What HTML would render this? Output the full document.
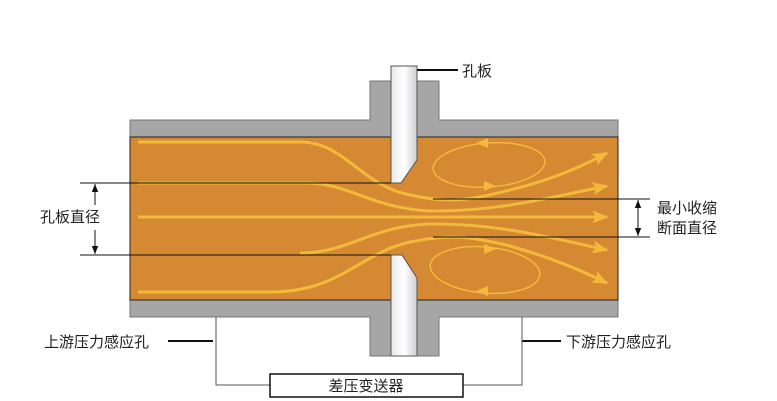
<!DOCTYPE html>
<html><head><meta charset="utf-8"><style>
html,body{margin:0;padding:0;background:#fff;}
svg{display:block;}
text{font-family:"Liberation Sans","Noto Sans CJK SC",sans-serif;font-size:15px;fill:#222;}
</style></head><body>
<svg width="777" height="401" viewBox="0 0 777 401" xmlns="http://www.w3.org/2000/svg">
<defs>
<marker id="ya" viewBox="0 0 10 10" refX="9" refY="5" markerWidth="16" markerHeight="16" orient="auto" markerUnits="userSpaceOnUse" >
<path d="M0,1 L10,5 L0,9 L2,5 z" fill="#f2b93a"/></marker>
<marker id="ba" viewBox="0 0 10 10" refX="10" refY="5" markerWidth="8" markerHeight="8" orient="auto" markerUnits="userSpaceOnUse">
<path d="M0,1 L10,5 L0,9 z" fill="#111"/></marker>
<linearGradient id="pg" x1="0" x2="1"><stop offset="0" stop-color="#e8e8ea"/><stop offset="0.5" stop-color="#ffffff"/><stop offset="1" stop-color="#cfcfd2"/></linearGradient>
</defs>
<path d="M130,120 L370,120 L370,81 L439,81 L439,120 L618,120 L618,317 L439,317 L439,356 L370,356 L370,317 L130,317 Z" fill="#a6a6a7" stroke="#777" stroke-width="1"/>
<rect x="130" y="137" width="488" height="163" fill="#d68933" stroke="#222" stroke-width="1"/>
<path d="M391,66 L417,66 L417,160 L401,183 L391,183 Z" fill="url(#pg)" stroke="#555" stroke-width="1"/>
<path d="M391,356 L417,356 L417,278 L402,255 L391,255 Z" fill="url(#pg)" stroke="#555" stroke-width="1"/>
<g fill="none" stroke="#f2b93a" stroke-width="3">
<path d="M138,142 L300,142 C345,142 360,185 410,195 C450,204 470,200 510,190 C560,178 590,162 607,153" marker-end="url(#ya)"/>
<path d="M138,183 L305,183 C350,183 370,208 430,211 C500,212 560,195 607,186" marker-end="url(#ya)"/>
<path d="M138,217 L607,217" marker-end="url(#ya)"/>
<path d="M138,292 L270,292 C340,292 360,253 410,242 C450,234 470,236 510,246 C560,260 590,275 607,283" marker-end="url(#ya)"/>
<path d="M300,253 C350,253 370,226 430,224 C500,223 560,240 607,250" marker-end="url(#ya)"/>
</g>
<g fill="none" stroke="#f2b93a" stroke-width="1.5">
<ellipse cx="489" cy="165" rx="56" ry="22" transform="rotate(-4 489 165)"/>
<ellipse cx="485" cy="270" rx="55" ry="23" transform="rotate(5 485 270)"/>
</g>
<g fill="#f2b93a">
<path d="M476,143 L488,138 L488,148 Z"/>
<path d="M496,186 L484,181 L484,191 Z"/>
<path d="M496,249 L484,244 L484,254 Z"/>
<path d="M476,291 L488,286 L488,296 Z"/>
</g>
<g stroke="#111" stroke-width="1">
<line x1="80" y1="183" x2="391" y2="183"/>
<line x1="80" y1="255" x2="391" y2="255"/>
<line x1="433" y1="199" x2="650" y2="199"/>
<line x1="433" y1="237" x2="650" y2="237"/>
<line x1="95" y1="205" x2="95" y2="184" marker-end="url(#ba)"/>
<line x1="95" y1="230" x2="95" y2="254" marker-end="url(#ba)"/>
<line x1="638" y1="218" x2="638" y2="200" marker-end="url(#ba)"/>
<line x1="638" y1="218" x2="638" y2="236" marker-end="url(#ba)"/>
<line x1="417" y1="70" x2="458" y2="70" stroke-width="2"/>
<line x1="168" y1="341" x2="213" y2="341" stroke-width="2"/>
<line x1="522" y1="341" x2="561" y2="341" stroke-width="2"/>
</g>
<g stroke="#555" stroke-width="1" fill="none">
<path d="M216,317 L216,385 L270,385"/>
<path d="M522,317 L522,385 L463,385"/>
</g>
<rect x="270" y="374" width="193" height="23" fill="#fff" stroke="#111" stroke-width="1.5"/>
<text x="462" y="76">孔板</text>
<text x="40" y="222">孔板直径</text>
<text x="657" y="213">最小收缩</text>
<text x="657" y="233">断面直径</text>
<text x="44" y="347">上游压力感应孔</text>
<text x="566" y="347">下游压力感应孔</text>
<text x="366" y="391" text-anchor="middle">差压变送器</text>
</svg>
</body></html>
